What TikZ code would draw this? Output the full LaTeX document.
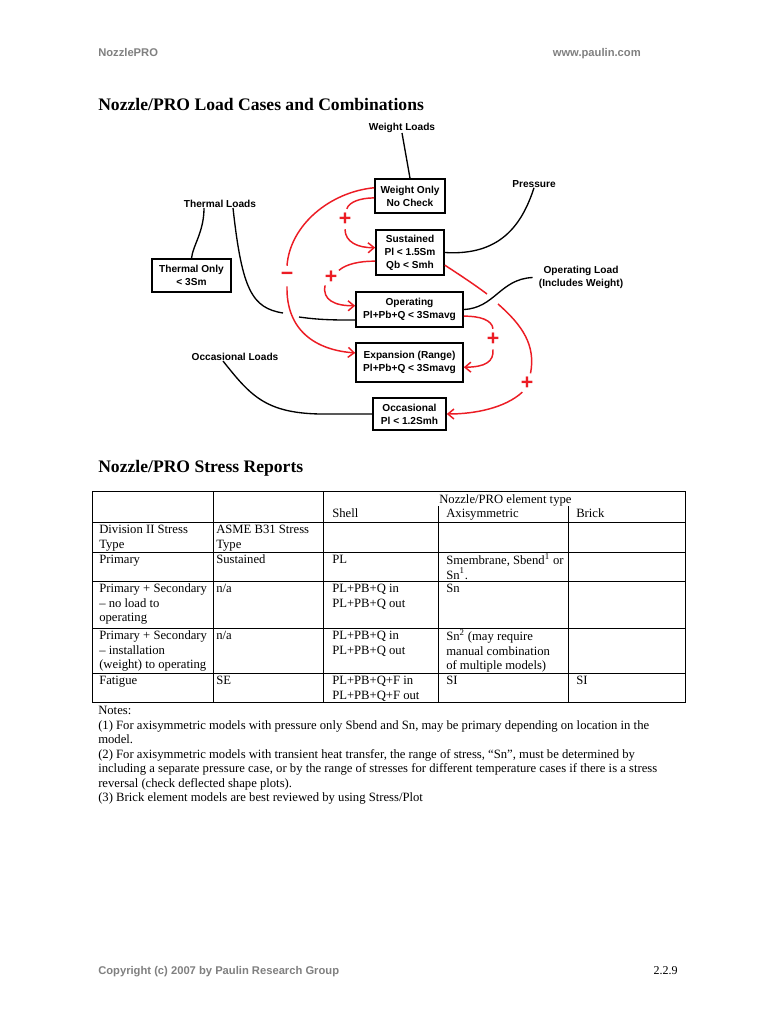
\documentclass[tikz,border=0pt]{standalone}
\usepackage{fontspec}
\setmainfont{Liberation Serif}
\newfontfamily\arialfont{Liberation Sans}
\usetikzlibrary{arrows.meta}
\definecolor{hdrgray}{RGB}{128,128,128}
\definecolor{dred}{RGB}{236,28,36}
\newcommand\bodyfs{\fontsize{9.5}{10.9}\selectfont\lineskiplimit=-6pt\relax}
\newcommand\diagfs{\arialfont\bfseries\fontsize{7.6}{9.75}\selectfont}
\begin{document}
\begin{tikzpicture}[x=0.75pt,y=-0.75pt,
  dtext/.style={font=\diagfs, align=center, inner sep=0pt},
  dbox/.style={dtext, draw, line width=1.2pt},
  blk/.style={line width=1pt},
  redc/.style={draw=dred, line width=1.1pt},
  redarr/.style={redc, -{Straight Barb[length=4.5pt,width=7.5pt]}},
  sign/.style={circle, minimum size=15pt, inner sep=0pt, text=dred, font=\arialfont\bfseries\fontsize{16}{16}\selectfont},
  cell/.style={font=\bodyfs, align=left, anchor=north west, inner sep=0pt},
  tline/.style={line width=0.7pt},
  hdr/.style={font=\arialfont\bfseries\fontsize{8.4}{10}\selectfont, text=hdrgray, inner sep=0pt},
  ttl/.style={font=\bfseries\fontsize{13.2}{15}\selectfont, inner sep=0pt, anchor=base west}
]
\useasboundingbox[fill=white] (0,0) rectangle (768,1024);

% header / footer
\node[hdr, anchor=base west] (hl) at (98,57) {NozzlePRO};
\node[hdr, anchor=base east] (hr) at (641,57) {www.paulin.com};
\node[hdr, anchor=base west] (fl) at (98,974) {Copyright (c) 2007 by Paulin Research Group};
\node[font=\fontsize{9}{10}\selectfont, inner sep=0pt, anchor=base east] (fr) at (678,974) {2.2.9};

% titles
\node[ttl] (t1) at (98,110) {Nozzle/PRO Load Cases and Combinations};
\node[ttl] (t2) at (98,472) {Nozzle/PRO Stress Reports};

% diagram text nodes
\node[dtext] (wl) at (402,128) {Weight Loads};
\node[dtext] (pr) at (534,184) {Pressure};
\node[dtext] (tl) at (220,204) {Thermal Loads};
\node[dtext] (ol) at (581,277.5) {Operating Load\\(Includes Weight)};
\node[dtext] (ocl) at (235,357) {Occasional Loads};

% boxes
\node[dbox, minimum width=52.5pt, minimum height=25.5pt] (wo) at (410,196) {Weight Only\\No Check};
\node[dbox, minimum width=51pt, minimum height=33.75pt] (su) at (410,252.5) {Sustained\\Pl < 1.5Sm\\Qb < Smh};
\node[dbox, minimum width=59.25pt, minimum height=24.75pt] (to) at (191.5,275.5) {Thermal Only\\< 3Sm};
\node[dbox, minimum width=80.25pt, minimum height=26.25pt] (op) at (409.5,309.5) {Operating\\Pl+Pb+Q < 3Smavg};
\node[dbox, minimum width=80.25pt, minimum height=29.25pt] (ex) at (409.5,362.5) {Expansion (Range)\\Pl+Pb+Q < 3Smavg};
\node[dbox, minimum width=54.75pt, minimum height=24pt] (oc) at (409.5,414) {Occasional\\Pl < 1.2Smh};

% signs
\node[sign] (m1) at (287,276) {−};
\node[sign] (p1) at (345,219) {+};
\node[sign] (p2) at (331,277) {+};
\node[sign] (p3) at (493,339) {+};
\node[sign] (p4) at (527,383) {+};

% black connectors
\draw[blk] (wl.south) -- (wo.north);
\draw[blk] (su.east) .. controls (500,256) and (522,225) .. (pr.south);
\draw[blk] ([xshift=-12pt]tl.south) .. controls (204,232) and (193,245) .. (to.north);
\draw[blk] ([xshift=9.75pt]tl.south) .. controls (242,290) and (252,308) .. (283,313)
           (299,317) .. controls (320,320) and (335,320) .. (op.191);
\draw[blk] (op.east) .. controls (495,308) and (500,279) .. ([xshift=-4.5pt]ol.west);
\draw[blk] ([xshift=-9pt]ocl.south) .. controls (250,395) and (265,413) .. (320,414) -- (oc.west);

% red connectors
\draw[redc] (wo.167) .. controls (330,192) and (290,225) .. (m1.north);
\draw[redarr] (m1.south) .. controls (286,330) and (315,350) .. (ex.170);
\draw[redc] (wo.183) .. controls (360,198) and (349,202) .. (p1.80);
\draw[redarr] (p1.south) .. controls (345,242) and (358,248) .. (su.172);
\draw[redc] (su.194) .. controls (360,261) and (346,264) .. (p2.40);
\draw[redarr] (p2.235) .. controls (322,300) and (335,306) .. (op.176);
\draw[redc] (su.-20) .. controls (460,275) and (475,285) .. (487,294)
            (498,304) .. controls (522,325) and (536,345) .. (p4.70);
\draw[redarr] (p4.243) .. controls (505,408) and (475,414) .. (oc.east);
\draw[redc] (op.-7) .. controls (480,316) and (492,320) .. (p3.north);
\draw[redarr] (p3.south) .. controls (494,362) and (485,367) .. (ex.-5);

% table
\draw[tline] (92,491) rectangle (685,702);
\foreach \yy in {522,552,581,628,673} \draw[tline] (92,\yy) -- (685,\yy);
\draw[tline] (213,491) -- (213,702);
\draw[tline] (323,491) -- (323,702);
\draw[tline] (438,506) -- (438,702);
\draw[tline] (568,506) -- (568,702);

\node[font=\bodyfs, inner sep=0pt, anchor=base west] (th0) at (439,503) {Nozzle/PRO element type};
\node[font=\bodyfs, inner sep=0pt, anchor=base west] (th3) at (332,517) {Shell};
\node[font=\bodyfs, inner sep=0pt, anchor=base west] (th4) at (446,517) {Axisymmetric};
\node[font=\bodyfs, inner sep=0pt, anchor=base west] (th5) at (576,517) {Brick};

\node[cell] (r2a) at (99,523.3) {\strut Division II Stress\\Type};
\node[cell] (r2b) at (216,523.3) {\strut ASME B31 Stress\\Type};

\node[cell] (r3a) at (99,553.3) {\strut Primary};
\node[cell] (r3b) at (216,553.3) {\strut Sustained};
\node[cell] (r3c) at (332,553.3) {\strut PL};
\node[cell] (r3d) at (446,553.3) {\strut Smembrane, Sbend\textsuperscript{1} or\\Sn\textsuperscript{1}.};

\node[cell] (r4a) at (99,582.3) {\strut Primary + Secondary\\– no load to\\operating};
\node[cell] (r4b) at (216,582.3) {\strut n/a};
\node[cell] (r4c) at (332,582.3) {\strut PL+PB+Q in\\PL+PB+Q out};
\node[cell] (r4d) at (446,582.3) {\strut Sn};

\node[cell] (r5a) at (99,629.3) {\strut Primary + Secondary\\– installation\\(weight) to operating};
\node[cell] (r5b) at (216,629.3) {\strut n/a};
\node[cell] (r5c) at (332,629.3) {\strut PL+PB+Q in\\PL+PB+Q out};
\node[cell] (r5d) at (446,629.3) {\strut Sn\textsuperscript{2} (may require\\manual combination\\of multiple models)};

\node[cell] (r6a) at (99,674.3) {\strut Fatigue};
\node[cell] (r6b) at (216,674.3) {\strut SE};
\node[cell] (r6c) at (332,674.3) {\strut PL+PB+Q+F in\\PL+PB+Q+F out};
\node[cell] (r6d) at (446,674.3) {\strut SI};
\node[cell] (r6e) at (576,674.3) {\strut SI};

% notes
\node[cell] (notes) at (98,704.3) {\strut Notes:\\
(1) For axisymmetric models with pressure only Sbend and Sn, may be primary depending on location in the\\
model.\\
(2) For axisymmetric models with transient heat transfer, the range of stress, ``Sn'', must be determined by\\
including a separate pressure case, or by the range of stresses for different temperature cases if there is a stress\\
reversal (check deflected shape plots).\\
(3) Brick element models are best reviewed by using Stress/Plot};
\end{tikzpicture}
\end{document}
